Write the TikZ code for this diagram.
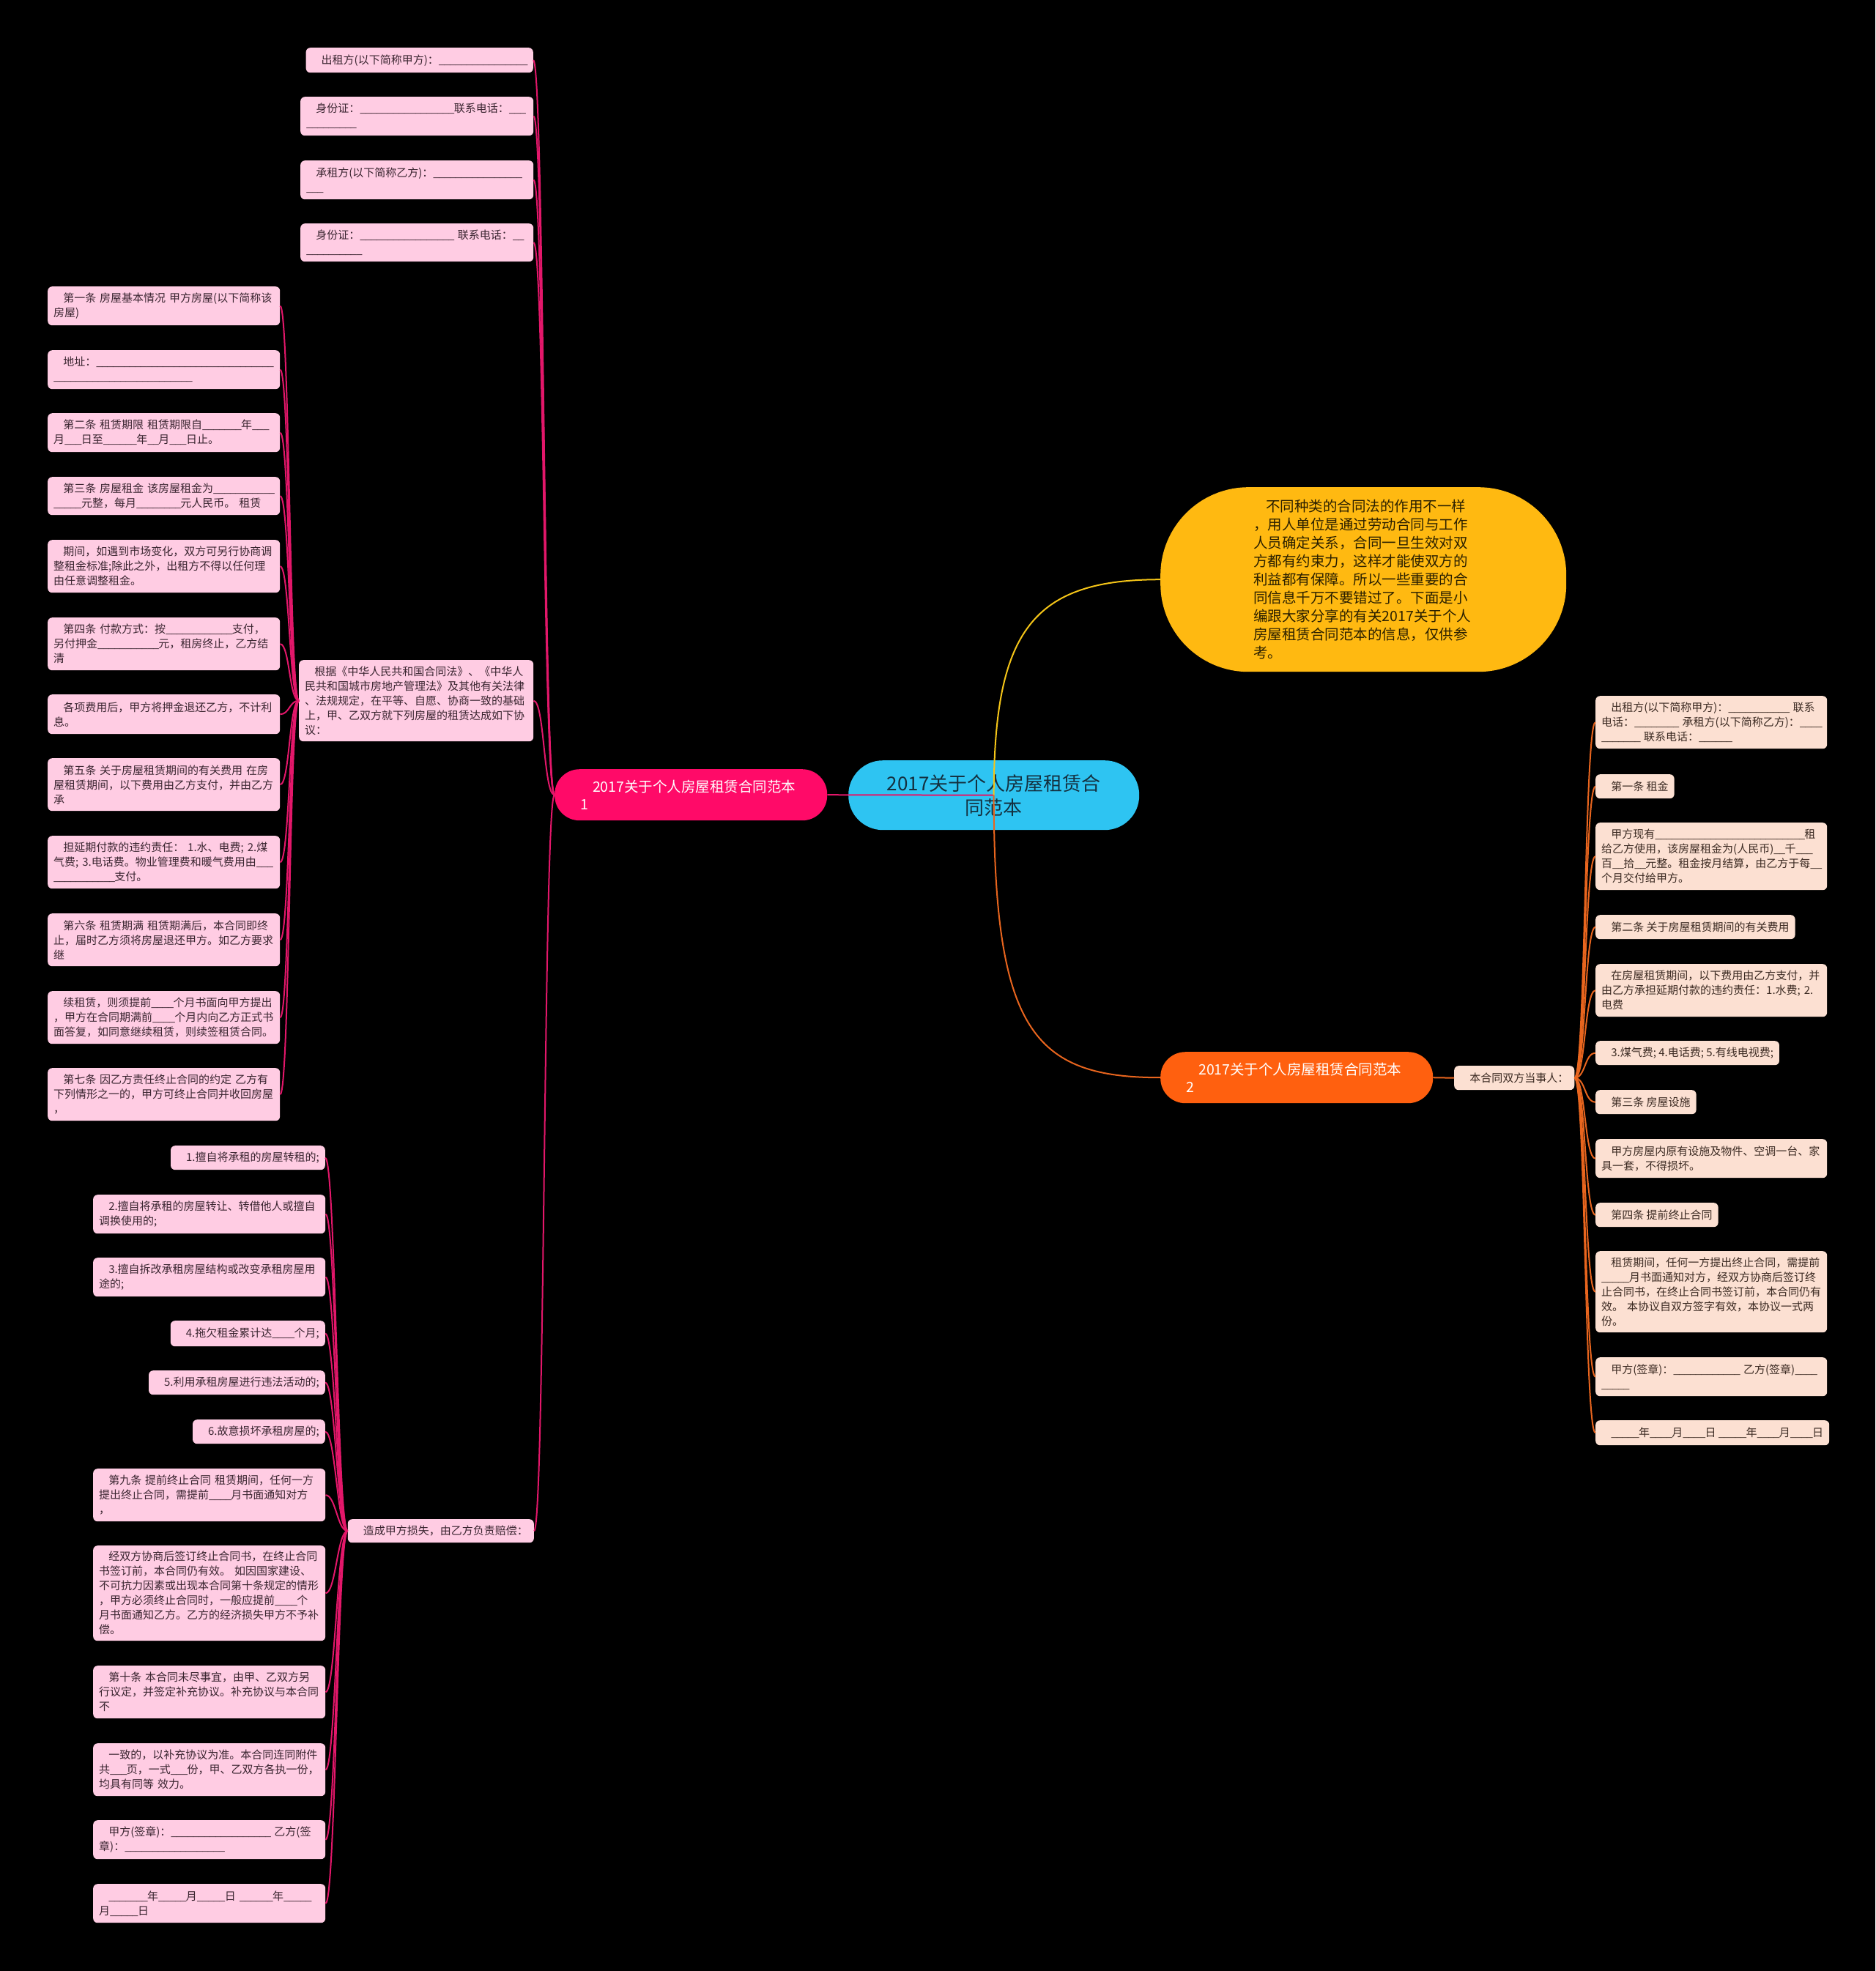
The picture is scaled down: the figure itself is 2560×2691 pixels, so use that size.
\documentclass[tikz,border=0pt]{standalone}
\usepackage{fontspec}
\setmainfont{Noto Sans CJK SC}
\definecolor{pkfill}{HTML}{FFCCE3}
\definecolor{pktext}{HTML}{3A2530}
\definecolor{pcfill}{HTML}{FCE0D2}
\definecolor{pctext}{HTML}{3B2A22}
\definecolor{rootblue}{HTML}{2EC4F2}
\definecolor{roottext}{HTML}{14303F}
\definecolor{mainpink}{HTML}{FF0A68}
\definecolor{mainorange}{HTML}{FF600F}
\definecolor{mainyellow}{HTML}{FFB911}
\definecolor{yeltext}{HTML}{2B2000}
\definecolor{linepink}{HTML}{E3176A}
\definecolor{lineorange}{HTML}{E8651E}
\definecolor{lineyellow}{HTML}{F5C518}
\newcommand\myind{\hspace*{0.87em}}
\ExplSyntaxOn
\cs_new:Npn \myblk #1 {\prg_replicate:nn {#1} {\textunderscore\kern-0.055em}}
\ExplSyntaxOff
\tikzset{
  sn/.style={anchor=north west, inner xsep=8pt, inner ysep=0pt, rounded corners=6pt, font=\fontsize{15}{20}\selectfont, align=left},
  pk/.style={sn, fill=pkfill, text=pktext},
  pc/.style={sn, fill=pcfill, text=pctext},
  pkw/.style={pk, text width=301pt},
  pcw/.style={pc, text width=300pt},
  mainnode/.style={anchor=north west, minimum width=372pt, minimum height=70pt, rounded corners=34pt, inner xsep=35pt, inner ysep=0pt, text width=302pt, align=left, text=white, font=\fontsize{19.5}{24}\selectfont},
  lnpk/.style={draw=linepink, line width=2pt},
  lnor/.style={draw=lineorange, line width=2pt},
  lnyl/.style={draw=lineyellow, line width=2pt}
}
\begin{document}
\begin{tikzpicture}[x=1pt,y=-1pt]
\fill[black] (0,0) rectangle (2560,2691);
\useasboundingbox (0,0) rectangle (2560,2691);

% main nodes
\node[anchor=north west, fill=rootblue, minimum width=397pt, minimum height=95pt, rounded corners=47pt, align=center, text=roottext, font=\fontsize{26}{33}\selectfont, inner sep=0pt] (root) at (1158,1038) {2017关于个人房屋租赁合\\同范本};
\node[mainnode, fill=mainpink] (m1) at (757,1050) {\myind 2017关于个人房屋租赁合同范本\\1};
\node[mainnode, fill=mainorange] (m2) at (1584,1436) {\myind 2017关于个人房屋租赁合同范本\\2};
\node[anchor=north west, fill=mainyellow, minimum width=554pt, minimum height=252pt, rounded corners=120pt, inner sep=0pt, text width=300pt, align=left, text=yeltext, font=\fontsize{19.5}{25}\selectfont] (yel) at (1584,665) {\myind 不同种类的合同法的作用不一样\\，用人单位是通过劳动合同与工作\\人员确定关系，合同一旦生效对双\\方都有约束力，这样才能使双方的\\利益都有保障。所以一些重要的合\\同信息千万不要错过了。下面是小\\编跟大家分享的有关2017关于个人\\房屋租赁合同范本的信息，仅供参\\考。};

% top-left group
\node[pk, anchor=north east, minimum height=34pt] (ta) at (728,65) {\myind 出租方(以下简称甲方)：\myblk{16}};
\node[pk, text width=302pt, minimum height=53pt] (tb) at (410,132) {\myind 身份证：\myblk{17}联系电话：\myblk{3}\\\myblk{9}};
\node[pk, text width=302pt, minimum height=53pt] (tc) at (410,219) {\myind 承租方(以下简称乙方)：\myblk{16}\\\myblk{3}};
\node[pk, text width=302pt, minimum height=52pt] (td) at (410,305) {\myind 身份证：\myblk{17}~联系电话：\myblk{2}\\\myblk{10}};
\node[pk, text width=304pt, minimum height=111pt] (te) at (408,901) {\myind 根据《中华人民共和国合同法》、《中华人\\民共和国城市房地产管理法》及其他有关法律\\、法规规定，在平等、自愿、协商一致的基础\\上，甲、乙双方就下列房屋的租赁达成如下协\\议：};

% left column
\node[pkw, minimum height=53pt] (l1) at (65,391) {\myind 第一条~房屋基本情况~甲方房屋(以下简称该\\房屋)};
\node[pkw, minimum height=53pt] (l2) at (65,478) {\myind 地址：\myblk{32}\\\myblk{25}};
\node[pkw, minimum height=53pt] (l3) at (65,564) {\myind 第二条~租赁期限~租赁期限自\myblk{7}年\myblk{3}\\月\myblk{3}日至\myblk{6}年\myblk{2}月\myblk{3}日止。};
\node[pkw, minimum height=52pt] (l4) at (65,651) {\myind 第三条~房屋租金~该房屋租金为\myblk{11}\\\myblk{5}元整，每月\myblk{8}元人民币。~租赁};
\node[pkw, minimum height=72pt] (l5) at (65,737) {\myind 期间，如遇到市场变化，双方可另行协商调\\整租金标准;除此之外，出租方不得以任何理\\由任意调整租金。};
\node[pkw, minimum height=72pt] (l6) at (65,843) {\myind 第四条~付款方式：按\myblk{12}支付，\\另付押金\myblk{11}元，租房终止，乙方结\\清};
\node[pkw, minimum height=54pt] (l7) at (65,948) {\myind 各项费用后，甲方将押金退还乙方，不计利\\息。};
\node[pkw, minimum height=72pt] (l8) at (65,1035) {\myind 第五条~关于房屋租赁期间的有关费用~在房\\屋租赁期间，以下费用由乙方支付，并由乙方\\承};
\node[pkw, minimum height=72pt] (l9) at (65,1141) {\myind 担延期付款的违约责任：~1.水、电费;~2.煤\\气费;~3.电话费。物业管理费和暖气费用由\myblk{3}\\\myblk{11}支付。};
\node[pkw, minimum height=72pt] (l10) at (65,1247) {\myind 第六条~租赁期满~租赁期满后，本合同即终\\止，届时乙方须将房屋退还甲方。如乙方要求\\继};
\node[pkw, minimum height=72pt] (l11) at (65,1353) {\myind 续租赁，则须提前\myblk{4}个月书面向甲方提出\\，甲方在合同期满前\myblk{4}个月内向乙方正式书\\面答复，如同意继续租赁，则续签租赁合同。};
\node[pkw, minimum height=72pt] (l12) at (65,1458) {\myind 第七条~因乙方责任终止合同的约定~乙方有\\下列情形之一的，甲方可终止合同并收回房屋\\，};

% bottom group
\node[pk, anchor=north east, minimum height=32pt] (zc) at (729,2074) {\myind 造成甲方损失，由乙方负责赔偿：};
\node[pk, anchor=north east, minimum height=33pt] (b1) at (444,1564) {\myind 1.擅自将承租的房屋转租的;};
\node[pkw, minimum height=53pt] (b2) at (127,1631) {\myind 2.擅自将承租的房屋转让、转借他人或擅自\\调换使用的;};
\node[pkw, minimum height=53pt] (b3) at (127,1717) {\myind 3.擅自拆改承租房屋结构或改变承租房屋用\\途的;};
\node[pk, anchor=north east, minimum height=35pt] (b4) at (444,1803) {\myind 4.拖欠租金累计达\myblk{4}个月;};
\node[pk, anchor=north east, minimum height=33pt] (b5) at (444,1871) {\myind 5.利用承租房屋进行违法活动的;};
\node[pk, anchor=north east, minimum height=33pt] (b6) at (444,1938) {\myind 6.故意损坏承租房屋的;};
\node[pkw, minimum height=72pt] (b7) at (127,2005) {\myind 第九条~提前终止合同~租赁期间，任何一方\\提出终止合同，需提前\myblk{4}月书面通知对方\\，};
\node[pkw, minimum height=130pt] (b8) at (127,2110) {\myind 经双方协商后签订终止合同书，在终止合同\\书签订前，本合同仍有效。~如因国家建设、\\不可抗力因素或出现本合同第十条规定的情形\\，甲方必须终止合同时，一般应提前\myblk{4}个\\月书面通知乙方。乙方的经济损失甲方不予补\\偿。};
\node[pkw, minimum height=72pt] (b9) at (127,2274) {\myind 第十条~本合同未尽事宜，由甲、乙双方另\\行议定，并签定补充协议。补充协议与本合同\\不};
\node[pkw, minimum height=72pt] (b10) at (127,2380) {\myind 一致的，以补充协议为准。本合同连同附件\\共\myblk{3}页，一式\myblk{3}份，甲、乙双方各执一份，\\均具有同等~效力。};
\node[pkw, minimum height=53pt] (b11) at (127,2485) {\myind 甲方(签章)：\myblk{18}~乙方(签\\章)：\myblk{18}};
\node[pkw, minimum height=53pt] (b12) at (127,2572) {\myind\myblk{7}年\myblk{5}月\myblk{5}日~\myblk{6}年\myblk{5}\\月\myblk{5}日};

% right group
\node[pc, minimum height=33pt] (bh) at (1985,1455) {\myind 本合同双方当事人：};
\node[pcw, minimum height=72pt] (r1) at (2178,950) {\myind 出租方(以下简称甲方)：\myblk{11}~联系\\电话：\myblk{8}~承租方(以下简称乙方)：\myblk{4}\\\myblk{7}~联系电话：\myblk{6}};
\node[pc, minimum height=33pt] (r2) at (2178,1057) {\myind 第一条~租金};
\node[pcw, minimum height=92pt] (r3) at (2178,1123) {\myind 甲方现有\myblk{27}租\\给乙方使用，该房屋租金为(人民币)\myblk{2}千\myblk{3}\\百\myblk{2}拾\myblk{2}元整。租金按月结算，由乙方于每\myblk{2}\\个月交付给甲方。};
\node[pc, minimum height=33pt] (r4) at (2178,1249) {\myind 第二条~关于房屋租赁期间的有关费用};
\node[pcw, minimum height=72pt] (r5) at (2178,1316) {\myind 在房屋租赁期间，以下费用由乙方支付，并\\由乙方承担延期付款的违约责任：1.水费;~2.\\电费};
\node[pc, minimum height=33pt] (r6) at (2178,1421) {\myind 3.煤气费;~4.电话费;~5.有线电视费;};
\node[pc, minimum height=33pt] (r7) at (2178,1488) {\myind 第三条~房屋设施};
\node[pcw, minimum height=53pt] (r8) at (2178,1555) {\myind 甲方房屋内原有设施及物件、空调一台、家\\具一套，不得损坏。};
\node[pc, minimum height=33pt] (r9) at (2178,1642) {\myind 第四条~提前终止合同};
\node[pcw, minimum height=111pt] (r10) at (2178,1708) {\myind 租赁期间，任何一方提出终止合同，需提前\\\myblk{5}月书面通知对方，经双方协商后签订终\\止合同书，在终止合同书签订前，本合同仍有\\效。~本协议自双方签字有效，本协议一式两\\份。};
\node[pcw, minimum height=53pt] (r11) at (2178,1853) {\myind 甲方(签章)：\myblk{12}~乙方(签章)\myblk{4}\\\myblk{5}};
\node[pc, minimum height=34pt] (r12) at (2178,1939) {\myind\myblk{5}年\myblk{4}月\myblk{4}日~\myblk{5}年\myblk{4}月\myblk{4}日};

% connectors
\foreach \n in {ta,tb,tc,td,te,zc}
  \draw[lnpk] (m1.west) .. controls +(-15,0) and +(15,0) .. (\n.east);
\foreach \n in {l1,l2,l3,l4,l5,l6,l7,l8,l9,l10,l11,l12}
  \draw[lnpk] (te.west) .. controls +(-13,0) and +(13,0) .. (\n.east);
\foreach \n in {b1,b2,b3,b4,b5,b6,b7,b8,b9,b10,b11,b12}
  \draw[lnpk] (zc.west) .. controls +(-14,0) and +(14,0) .. (\n.east);
\foreach \n in {r1,r2,r3,r4,r5,r6,r7,r8,r9,r10,r11,r12}
  \draw[lnor] (bh.east) .. controls +(15,0) and +(-15,0) .. (\n.west);
\draw[lnor] (m2.east) -- (bh.west);
\draw[lnpk] (root.center) -- (m1.east);
\draw[lnyl] (root.center) .. controls +(0,-225) and +(-174,0) .. (yel.west);
\draw[lnor] (root.center) .. controls +(0,320) and +(-174,0) .. (m2.west);
\end{tikzpicture}
\end{document}
